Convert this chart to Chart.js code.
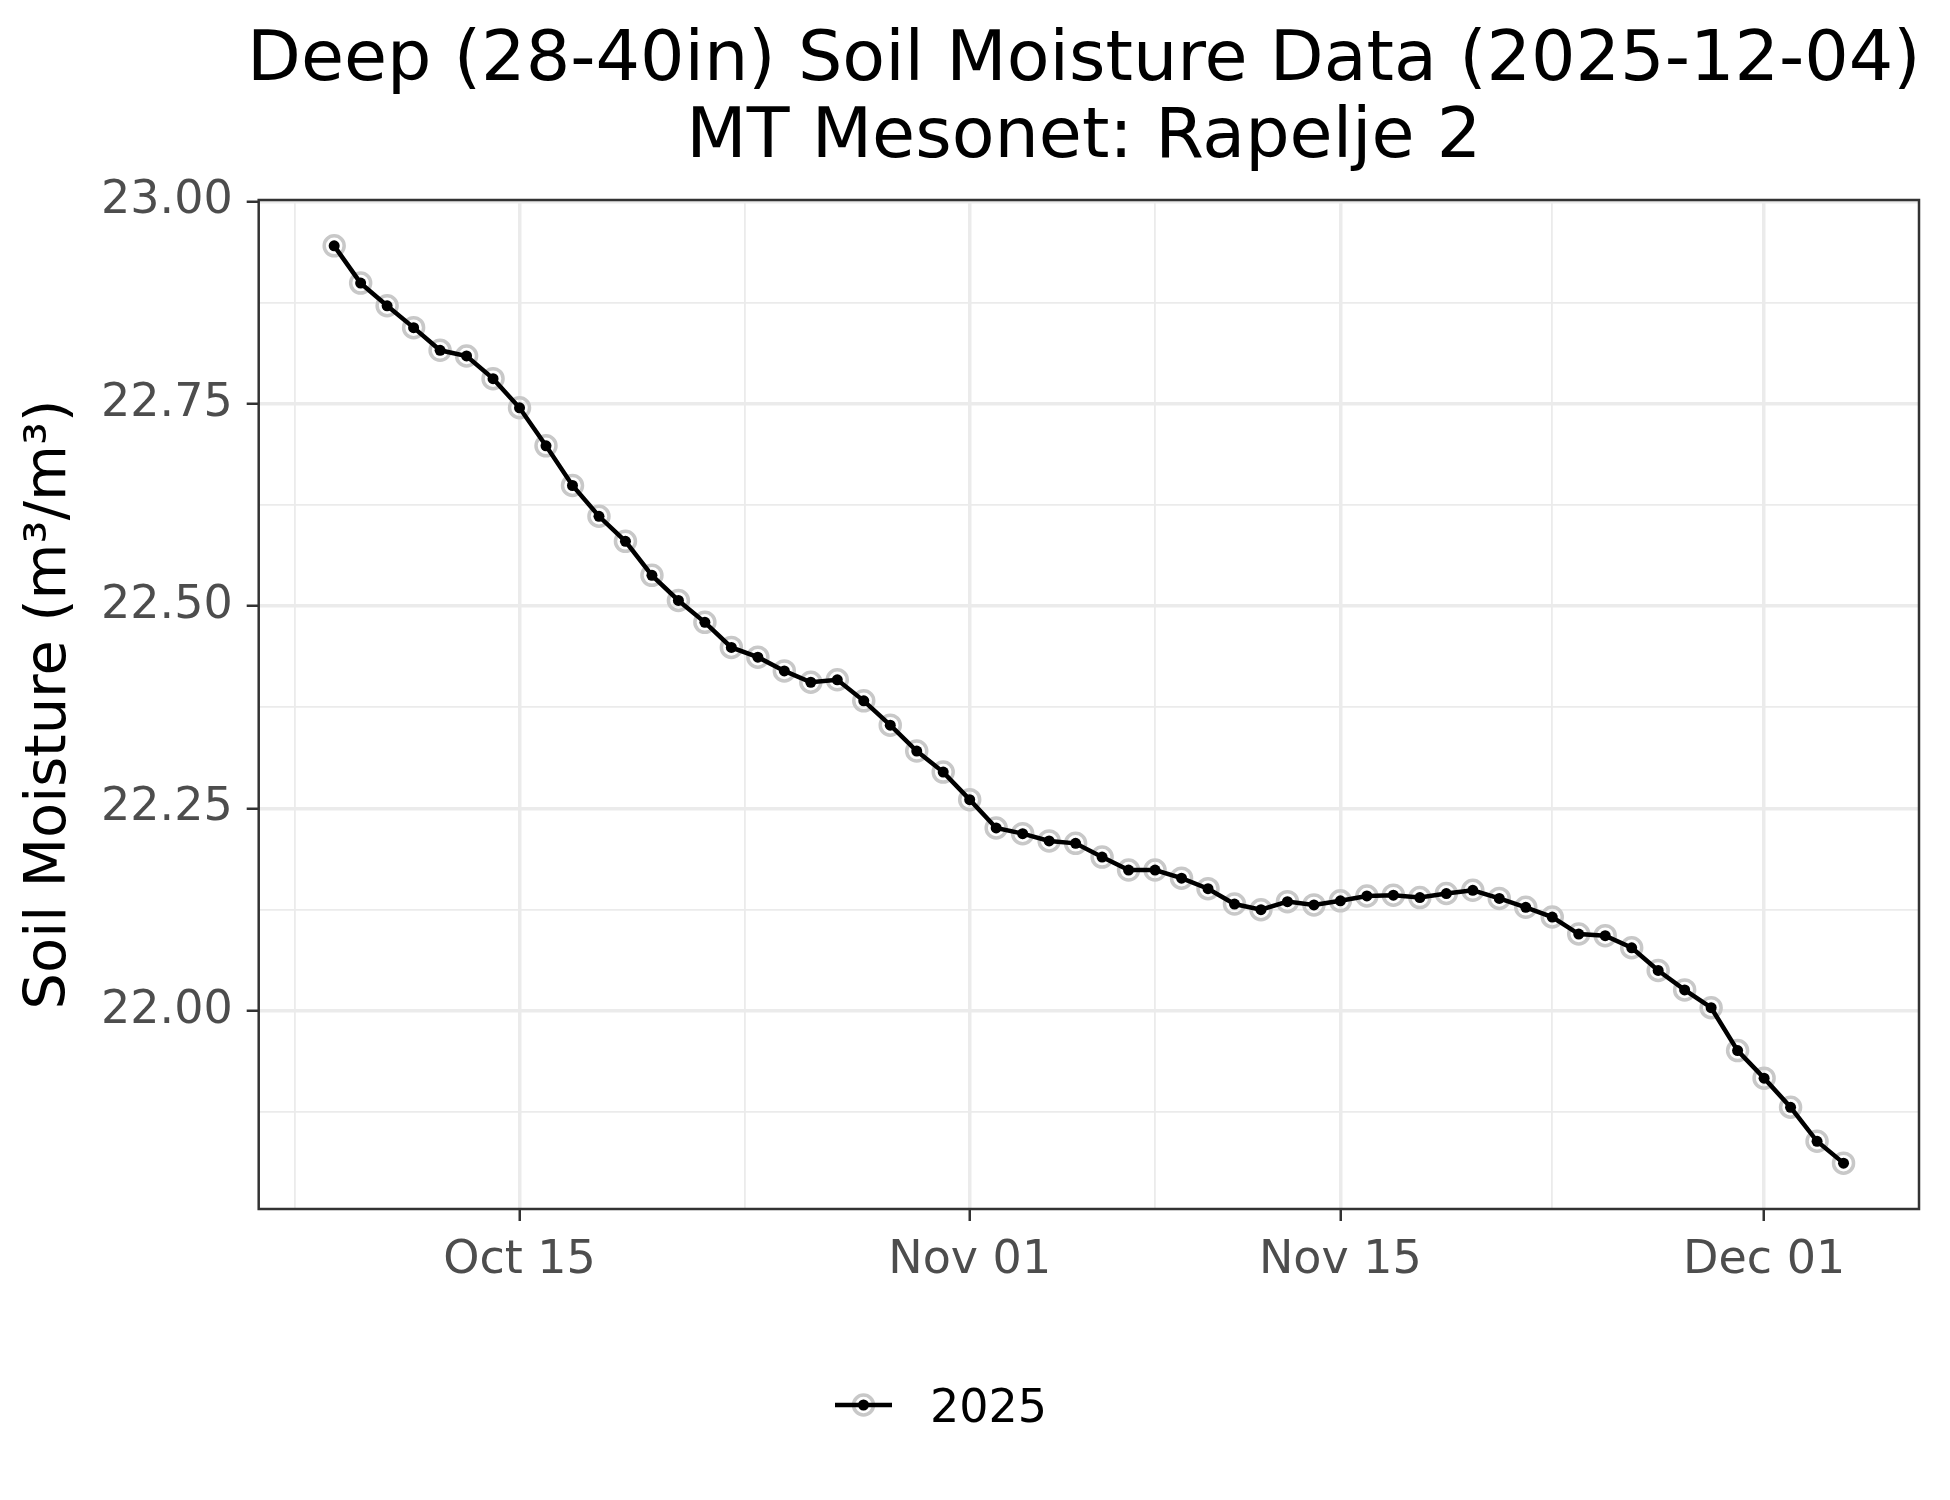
<!DOCTYPE html>
<html>
<head>
<meta charset="utf-8">
<script src="https://cdn.jsdelivr.net/npm/chart.js@4.4.1/dist/chart.umd.min.js"></script>
<style>
  html, body { margin: 0; padding: 0; background: #fff; }
  canvas { display: block; }
</style>
</head>
<body>
<canvas id="chart" width="1950" height="1500"></canvas>
<script>
const titleLines = ['Deep (28-40in) Soil Moisture Data (2025-12-04)', 'MT Mesonet: Rapelje 2'];
const yTitle = 'Soil Moisture (m³/m³)';
const seriesLabel = '2025';

const dates = [
  '2025-10-08', '2025-10-09', '2025-10-10', '2025-10-11', '2025-10-12', '2025-10-13', '2025-10-14',
  '2025-10-15', '2025-10-16', '2025-10-17', '2025-10-18', '2025-10-19', '2025-10-20', '2025-10-21',
  '2025-10-22', '2025-10-23', '2025-10-24', '2025-10-25', '2025-10-26', '2025-10-27', '2025-10-28',
  '2025-10-29', '2025-10-30', '2025-10-31', '2025-11-01', '2025-11-02', '2025-11-03', '2025-11-04',
  '2025-11-05', '2025-11-06', '2025-11-07', '2025-11-08', '2025-11-09', '2025-11-10', '2025-11-11',
  '2025-11-12', '2025-11-13', '2025-11-14', '2025-11-15', '2025-11-16', '2025-11-17', '2025-11-18',
  '2025-11-19', '2025-11-20', '2025-11-21', '2025-11-22', '2025-11-23', '2025-11-24', '2025-11-25',
  '2025-11-26', '2025-11-27', '2025-11-28', '2025-11-29', '2025-11-30', '2025-12-01', '2025-12-02',
  '2025-12-03', '2025-12-04',
];

const moisture = [
  22.945, 22.899, 22.871, 22.844, 22.816, 22.809, 22.781,
  22.745, 22.698, 22.649, 22.611, 22.580, 22.538, 22.507,
  22.480, 22.449, 22.437, 22.420, 22.406, 22.409, 22.383,
  22.353, 22.321, 22.295, 22.261, 22.226, 22.219, 22.210,
  22.207, 22.190, 22.174, 22.174, 22.164, 22.151, 22.132,
  22.125, 22.135, 22.131, 22.136, 22.142, 22.143, 22.140,
  22.145, 22.149, 22.139, 22.128, 22.116, 22.095, 22.093,
  22.078, 22.050, 22.026, 22.004, 21.951, 21.917, 21.881,
  21.839, 21.812,
];

const xTickDates = ['2025-10-15', '2025-11-01', '2025-11-15', '2025-12-01'];
const xTickLabels = ['Oct 15', 'Nov 01', 'Nov 15', 'Dec 01'];
const yTicks = [22.0, 22.25, 22.5, 22.75, 23.0];

const FONT = 'DejaVu Sans';
const GRID = '#EBEBEB';
const DARK = '#333333';

function toDay(s) {
  return Date.UTC(+s.slice(0, 4), +s.slice(5, 7) - 1, +s.slice(8, 10)) / 86400000;
}

// ggplot style 5% expansion on both scales
function expand(lo, hi) {
  const pad = (hi - lo) * 0.05;
  return [lo - pad, hi + pad];
}

// minor breaks sit halfway between the major ones
function midpoints(ticks, lo, hi) {
  const out = [];
  const first = ticks[0] - (ticks[1] - ticks[0]);
  const last = ticks[ticks.length - 1] + (ticks[ticks.length - 1] - ticks[ticks.length - 2]);
  const all = [first].concat(ticks, [last]);
  for (let i = 0; i < all.length - 1; i++) {
    const m = (all[i] + all[i + 1]) / 2;
    if (m > lo && m < hi) out.push(m);
  }
  return out;
}

const days = dates.map(toDay);
const xTickDays = xTickDates.map(toDay);
const [xMin, xMax] = expand(Math.min(...days), Math.max(...days));
const [yMin, yMax] = expand(Math.min(...moisture), Math.max(...moisture));
const xMinor = midpoints(xTickDays, xMin, xMax);
const yMinor = midpoints(yTicks, yMin, yMax);

const points = days.map((d, i) => ({ x: d, y: moisture[i] }));

const ggExtras = {
  id: 'ggExtras',
  afterDatasetsDraw(chart) {
    const { ctx, chartArea: a } = chart;
    ctx.save();
    ctx.strokeStyle = DARK;
    ctx.lineWidth = 2.5;
    ctx.strokeRect(a.left, a.top, a.right - a.left, a.bottom - a.top);
    ctx.restore();
  },
  afterDraw(chart) {
    const { ctx, chartArea: a } = chart;
    ctx.save();
    ctx.fillStyle = '#000';
    ctx.textAlign = 'center';
    ctx.textBaseline = 'alphabetic';
    ctx.font = `70px "${FONT}"`;
    const cx = (a.left + a.right) / 2 - 5;
    ctx.fillText(titleLines[0], cx, 80);
    ctx.fillText(titleLines[1], cx, 157);

    // legend: line + ring + dot, then label
    const ly = 1405;
    const lx0 = 835;
    const lx1 = 892;
    const lc = (lx0 + lx1) / 2;
    ctx.strokeStyle = '#C8C8C8';
    ctx.lineWidth = 3.5;
    ctx.beginPath();
    ctx.arc(lc, ly, 10, 0, Math.PI * 2);
    ctx.stroke();
    ctx.strokeStyle = '#000';
    ctx.lineWidth = 4.5;
    ctx.beginPath();
    ctx.moveTo(lx0, ly);
    ctx.lineTo(lx1, ly);
    ctx.stroke();
    ctx.fillStyle = '#000';
    ctx.beginPath();
    ctx.arc(lc, ly, 5.5, 0, Math.PI * 2);
    ctx.fill();
    ctx.textAlign = 'left';
    ctx.font = `46px "${FONT}"`;
    ctx.fillText(seriesLabel, 930, 1422);
    ctx.restore();
  },
};

new Chart(document.getElementById('chart'), {
  type: 'line',
  data: {
    datasets: [
      {
        label: seriesLabel,
        data: points,
        borderColor: '#000',
        borderWidth: 4.5,
        pointRadius: 5.5,
        pointBackgroundColor: '#000',
        pointBorderWidth: 0,
        tension: 0,
        order: 0,
      },
      {
        label: seriesLabel + ' ring',
        data: points,
        showLine: false,
        pointRadius: 10,
        pointBorderColor: '#C8C8C8',
        pointBorderWidth: 3.5,
        pointBackgroundColor: 'rgba(0,0,0,0)',
        order: 1,
      },
    ],
  },
  options: {
    responsive: false,
    animation: false,
    devicePixelRatio: 1,
    layout: { padding: { top: 200, right: 31, bottom: 0, left: 0 } },
    plugins: {
      legend: { display: false },
      title: { display: false },
      tooltip: { enabled: false },
    },
    scales: {
      x: {
        type: 'linear',
        position: 'bottom',
        min: xMin,
        max: xMax,
        afterBuildTicks: (s) => { s.ticks = xTickDays.map((v) => ({ value: v })); },
        afterFit: (s) => { s.height = 291; },
        ticks: {
          callback: (v, i) => xTickLabels[i],
          font: { family: FONT, size: 46 },
          color: '#4D4D4D',
          padding: 12,
          maxRotation: 0,
          autoSkip: false,
        },
        grid: { color: GRID, lineWidth: 3.5, tickColor: DARK, tickLength: 12, tickWidth: 2.5 },
        border: { display: false },
      },
      xMinor: {
        type: 'linear',
        position: 'bottom',
        min: xMin,
        max: xMax,
        afterBuildTicks: (s) => { s.ticks = xMinor.map((v) => ({ value: v })); },
        afterFit: (s) => { s.height = 0; },
        ticks: { display: false },
        grid: { color: GRID, lineWidth: 1.8, drawTicks: false },
        border: { display: false },
      },
      y: {
        type: 'linear',
        position: 'left',
        min: yMin,
        max: yMax,
        afterBuildTicks: (s) => { s.ticks = yTicks.map((v) => ({ value: v })); },
        afterFit: (s) => { s.width = 258.7; },
        ticks: {
          callback: (v) => v.toFixed(2),
          font: { family: FONT, size: 46 },
          color: '#4D4D4D',
          padding: 14,
        },
        grid: { color: GRID, lineWidth: 3.5, tickColor: DARK, tickLength: 12, tickWidth: 2.5 },
        border: { display: false },
        title: {
          display: true,
          text: yTitle,
          color: '#000',
          font: { family: FONT, size: 57.5 },
          padding: { top: 15.5, bottom: 0 },
        },
      },
      yMinor: {
        type: 'linear',
        position: 'left',
        min: yMin,
        max: yMax,
        afterBuildTicks: (s) => { s.ticks = yMinor.map((v) => ({ value: v })); },
        afterFit: (s) => { s.width = 0; },
        ticks: { display: false },
        grid: { color: GRID, lineWidth: 1.8, drawTicks: false },
        border: { display: false },
      },
    },
  },
  plugins: [ggExtras],
});
</script>
</body>
</html>
